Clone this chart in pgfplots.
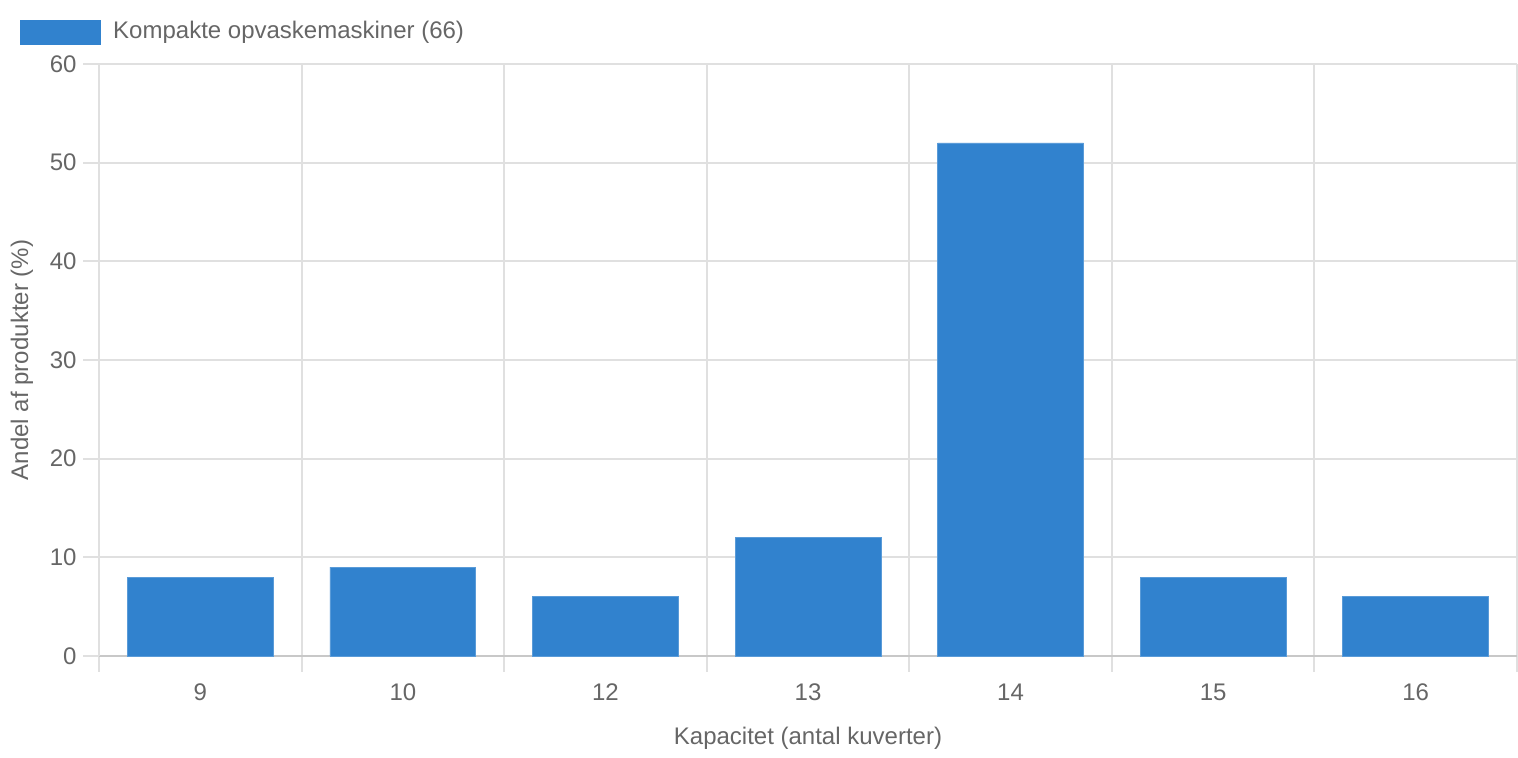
\documentclass[border=0pt]{standalone}
\usepackage{pgfplots}
\pgfplotsset{compat=1.18}
\usepackage{fontspec}
\setmainfont{Liberation Sans}
\definecolor{barblue}{HTML}{3182CE}
\definecolor{txt}{HTML}{666666}
\definecolor{gridc}{HTML}{E0E0E0}
\definecolor{axc}{HTML}{C8C8C8}
\begin{document}
\fontsize{12pt}{14pt}\selectfont
\begin{tikzpicture}
\path[use as bounding box] (-49.5pt,-51pt) rectangle (709.5pt,328pt);
\begin{axis}[
  at={(0pt,0pt)}, anchor=south west,
  scale only axis, width=709pt, height=296pt,
  ybar, bar width=0.72,
  xmin=-0.5, xmax=6.5, ymin=0, ymax=60,
  xtick={0,1,2,3,4,5,6},
  xticklabels={9,10,12,13,14,15,16},
  minor xtick={-0.5,0.5,1.5,2.5,3.5,4.5,5.5,6.5},
  ytick={0,10,20,30,40,50,60},
  /pgf/number format/assume math mode=true,
  xmajorgrids=false, xminorgrids=true, ymajorgrids=true,
  grid style={draw=gridc, line width=1pt},
  minor grid style={draw=gridc, line width=1pt},
  major tick length=8pt, minor tick length=8pt,
  tick align=outside,
  x tick style={draw=none},
  minor x tick style={draw=gridc, line width=1pt},
  y tick style={draw=gridc, line width=1pt},
  axis y line*=left, axis x line*=bottom,
  y axis line style={draw=gridc, line width=1pt},
  x axis line style={draw=axc, line width=1pt},
  tick label style={text=txt, font=\fontsize{12pt}{14pt}\selectfont},
  xticklabel style={anchor=center, inner sep=0pt, yshift=-10pt},
  yticklabel style={anchor=east, inner sep=0pt, xshift=-3pt},
  xlabel={Kapacitet (antal kuverter)},
  ylabel={Andel af produkter (\%)},
  label style={text=txt, font=\fontsize{12pt}{14pt}\selectfont},
  xlabel style={at={(axis description cs:0.5,-0.1395)}, anchor=center},
  ylabel style={at={(axis description cs:-0.0543,0.5)}, anchor=center},
  legend style={at={(axis description cs:-0.0557,1.054)}, anchor=west, draw=none, fill=none,
    inner sep=0pt, text=txt, font=\fontsize{12pt}{14pt}\selectfont,
    nodes={inner xsep=6pt, inner ysep=0pt, anchor=west}},
  legend image code/.code={\fill[barblue] (0pt,-6pt) rectangle (40pt,6pt);},
  clip=false,
]
\addplot[fill=barblue, draw=barblue!80!white, line width=0.4pt] coordinates {
  (0,8) (1,9) (2,6) (3,12) (4,52) (5,8) (6,6)
};
\addlegendentry{Kompakte opvaskemaskiner (66)}
\draw[gridc, line width=1pt] (axis cs:-0.5,60) -- (axis cs:6.5,60);
\end{axis}
\end{tikzpicture}
\end{document}
